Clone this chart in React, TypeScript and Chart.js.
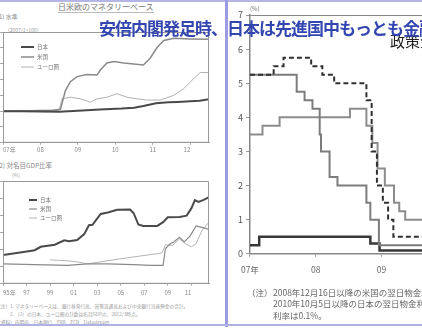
import React, { useEffect, useRef } from "react";
import { Chart, registerables } from "chart.js";
Chart.register(...registerables);
Chart.defaults.font.family = '"Noto Sans CJK JP", "DejaVu Sans", sans-serif';

// ---------- (1) Monetary base level, 2007/1 = 100; x = months since 2007/1 ----------
const mbTickMonths = [0, 12, 24, 36, 48, 60];
const mbTickLabels = ["07年", "08", "09", "10", "11", "12"];
const mbJapanMonths = [0, 6, 12, 18, 24, 31, 38, 42, 45, 49, 53, 56, 60, 63, 66];
const mbJapanValues = [100, 100, 99, 98, 101, 105, 108, 111, 116, 125, 128, 129, 131, 133, 138];
const mbUSMonths = [0, 8, 16, 18.4, 20, 21.6, 23.7, 26.9, 30.1, 31.2, 33.3, 35.5, 38.7, 45, 47.2, 49.3, 51.5, 54.7, 60, 66];
const mbUSValues = [100, 101, 103, 106, 165, 193, 209, 216, 214, 230, 252, 257, 252, 246, 268, 300, 323, 330, 328, 327];
const mbEuroMonths = [0, 10, 18, 18.9, 21.6, 24.8, 28, 30.1, 33.3, 36.5, 39.7, 42.9, 46.1, 50.4, 54.7, 57.9, 61.1, 63.2, 66];
const mbEuroValues = [100, 102, 103, 139, 144, 139, 128, 139, 144, 155, 144, 139, 135, 135, 150, 171, 203, 222, 222];

// ---------- (2) Ratio to nominal GDP (%) ----------
const gdpTickYears = [1995, 1997, 1999, 2001, 2003, 2005, 2007, 2009, 2011];
const gdpTickLabels = ["95年", "97", "99", "01", "03", "05", "07", "09", "11"];
const gdpJapanYears = [1995, 1996.6, 1997.7, 1998.2, 1999.4, 2000.2, 2000.6, 2001.3, 2001.9, 2002.3, 2002.6, 2003.3, 2003.9, 2004.7, 2005.8, 2006.1, 2006.5, 2006.9, 2008.1, 2008.6, 2009.0, 2010.0, 2010.6, 2011.0, 2011.3, 2011.6, 2012.0, 2012.5];
const gdpJapanValues = [8.4, 9.2, 9.8, 10.8, 11.4, 12.7, 12.4, 12.8, 14.5, 17.1, 17.2, 20.4, 20.8, 21.6, 21.7, 20.6, 17.3, 16.9, 16.9, 18.0, 19.4, 19.5, 19.9, 22.0, 24.4, 23.9, 24.4, 25.3];
const gdpUSYears = [1995, 1997.7, 2000.5, 2002.2, 2003.9, 2006.1, 2007.5, 2008.6, 2008.8, 2009.2, 2009.5, 2010.0, 2010.4, 2010.9, 2011.4, 2012.0, 2012.5];
const gdpUSValues = [5.8, 5.6, 5.4, 5.8, 5.8, 5.6, 5.4, 5.4, 10.3, 11.7, 12.2, 13.6, 12.2, 14.0, 16.9, 16.4, 15.9];
const gdpEuroYears = [1999.0, 2000.5, 2001.3, 2002.2, 2004.0, 2006.0, 2007.5, 2008.5, 2008.8, 2009.4, 2010.0, 2010.5, 2011.0, 2011.4, 2011.9, 2012.5];
const gdpEuroValues = [7.0, 6.7, 6.4, 5.8, 6.8, 7.8, 8.5, 9.0, 11.4, 11.2, 13.1, 11.7, 10.8, 11.7, 15.5, 18.0];

// ---------- Policy rates (%) ----------
const rateTickYears = [2007, 2008, 2009, 2010];
const rateTickLabels = ["07年", "08", "09", "10"];
const rateUSDates = [2007.0, 2007.71, 2007.83, 2007.95, 2008.06, 2008.08, 2008.21, 2008.33, 2008.77, 2008.83, 2008.96, 2010.0];
const rateUSValues = [5.25, 4.75, 4.5, 4.25, 3.5, 3.0, 2.25, 2.0, 1.5, 1.0, 0.25, 0.25];
const rateUKDates = [2007.0, 2007.36, 2007.51, 2007.93, 2008.1, 2008.28, 2008.77, 2008.85, 2008.93, 2009.02, 2009.1, 2009.18, 2010.0];
const rateUKValues = [5.25, 5.5, 5.75, 5.5, 5.25, 5.0, 4.5, 3.0, 2.0, 1.5, 1.0, 0.5, 0.5];
const rateECBDates = [2007.0, 2007.19, 2007.45, 2008.52, 2008.77, 2008.86, 2008.94, 2009.05, 2009.19, 2009.27, 2009.36, 2010.0];
const rateECBValues = [3.5, 3.75, 4.0, 4.25, 3.75, 3.25, 2.5, 2.0, 1.5, 1.25, 1.0, 1.0];
const rateJPDates = [2007.0, 2007.14, 2008.83, 2008.97, 2010.0];
const rateJPValues = [0.25, 0.5, 0.3, 0.1, 0.1];

const zip = (xs: number[], ys: number[]) => xs.map((x, i) => ({ x, y: ys[i] }));

const framePlugin = (id: string, color: string, topOnly = false) => ({
  id,
  afterDraw(chart: any) {
    const { ctx, chartArea: a } = chart;
    ctx.save();
    ctx.strokeStyle = color;
    ctx.lineWidth = 1;
    ctx.beginPath();
    if (topOnly) {
      ctx.moveTo(a.left, a.top + 0.5);
      ctx.lineTo(a.right, a.top + 0.5);
    } else {
      ctx.rect(a.left + 0.5, a.top + 0.5, a.width - 1, a.height - 1);
    }
    ctx.stroke();
    ctx.restore();
  },
});

const legendPlugin = (id: string, x0: number, x1: number, ys: number[], tx: number, size: number) => ({
  id,
  afterDatasetsDraw(chart: any) {
    const { ctx, chartArea: a } = chart;
    chart.data.datasets.forEach((ds: any, i: number) => {
      const y = a.top + ys[i];
      ctx.save();
      ctx.strokeStyle = ds.borderColor;
      ctx.lineWidth = ds.borderWidth;
      ctx.beginPath();
      ctx.moveTo(a.left + x0, y);
      ctx.lineTo(a.left + x1, y);
      ctx.stroke();
      ctx.fillStyle = "#777";
      ctx.font = `${size}px "Noto Sans CJK JP", sans-serif`;
      ctx.textBaseline = "middle";
      ctx.fillText(ds.label, a.left + tx, y);
      ctx.restore();
    });
  },
});

const baseOpts = {
  animation: false,
  responsive: false,
  devicePixelRatio: 1,
  events: [],
};

function mbConfig(): any {
  return {
    type: "line",
    data: {
      datasets: [
        { label: "日本", data: zip(mbJapanMonths, mbJapanValues), borderColor: "#4a4a4a", borderWidth: 2, pointRadius: 0 },
        { label: "米国", data: zip(mbUSMonths, mbUSValues), borderColor: "#8a8a8a", borderWidth: 1.5, pointRadius: 0 },
        { label: "ユーロ圏", data: zip(mbEuroMonths, mbEuroValues), borderColor: "#b0b0b0", borderWidth: 1, pointRadius: 0 },
      ],
    },
    options: {
      ...baseOpts,
      layout: { padding: { left: 0, right: 7, top: 6, bottom: 6 } },
      plugins: { legend: { display: false }, tooltip: { enabled: false } },
      scales: {
        x: {
          type: "linear", min: 0, max: 66,
          afterBuildTicks: (s: any) => { s.ticks = mbTickMonths.map((v) => ({ value: v })); },
          ticks: { autoSkip: false, maxRotation: 0, align: "inner", padding: 1, font: { size: 6 }, color: "#888",
            callback: (v: number) => mbTickLabels[mbTickMonths.indexOf(v)] ?? "" },
          grid: { drawOnChartArea: false, tickLength: 2, color: "#aaa" },
          border: { color: "#999" },
        },
        y: {
          min: 0, max: 350,
          ticks: { stepSize: 50, display: false },
          grid: { drawOnChartArea: false, tickLength: 3, color: "#aaa" },
          border: { color: "#999" },
        },
      },
    },
    plugins: [framePlugin("frameA", "#999"), legendPlugin("legA", 18, 31, [15, 25, 35], 34, 5.5)],
  };
}

function gdpConfig(): any {
  return {
    type: "line",
    data: {
      datasets: [
        { label: "日本", data: zip(gdpJapanYears, gdpJapanValues), borderColor: "#4a4a4a", borderWidth: 2, pointRadius: 0 },
        { label: "米国", data: zip(gdpUSYears, gdpUSValues), borderColor: "#8a8a8a", borderWidth: 1.2, pointRadius: 0 },
        { label: "ユーロ圏", data: zip(gdpEuroYears, gdpEuroValues), borderColor: "#b4b4b4", borderWidth: 1, pointRadius: 0 },
      ],
    },
    options: {
      ...baseOpts,
      layout: { padding: { left: 0, right: 7, top: 6, bottom: 4 } },
      plugins: { legend: { display: false }, tooltip: { enabled: false } },
      scales: {
        x: {
          type: "linear", min: 1995, max: 2012.5,
          afterBuildTicks: (s: any) => { s.ticks = gdpTickYears.map((v) => ({ value: v })); },
          ticks: { autoSkip: false, maxRotation: 0, align: "inner", padding: 3, font: { size: 6 }, color: "#888",
            callback: (v: number) => gdpTickLabels[gdpTickYears.indexOf(v)] ?? "" },
          grid: { drawOnChartArea: false, tickLength: 2, color: "#aaa" },
          border: { color: "#999" },
        },
        y: {
          min: 0, max: 30,
          ticks: { stepSize: 5, display: false },
          grid: { drawOnChartArea: false, tickLength: 3, color: "#aaa" },
          border: { color: "#999" },
        },
      },
    },
    plugins: [framePlugin("frameB", "#999"), legendPlugin("legB", 26, 34, [19, 28, 37], 37, 5.5)],
  };
}

function rateConfig(): any {
  return {
    type: "line",
    data: {
      datasets: [
        { label: "英国", data: zip(rateUKDates, rateUKValues), borderColor: "#303030", borderWidth: 2, borderDash: [5, 3], stepped: "before", pointRadius: 0 },
        { label: "米国", data: zip(rateUSDates, rateUSValues), borderColor: "#7c7c7c", borderWidth: 2, stepped: "before", pointRadius: 0 },
        { label: "ユーロ圏", data: zip(rateECBDates, rateECBValues), borderColor: "#8c8c8c", borderWidth: 2, stepped: "before", pointRadius: 0 },
        { label: "日本", data: zip(rateJPDates, rateJPValues), borderColor: "#383838", borderWidth: 2.5, stepped: "before", pointRadius: 0 },
      ],
    },
    options: {
      ...baseOpts,
      layout: { padding: { left: 7, right: 5, top: 15, bottom: 5 } },
      plugins: { legend: { display: false }, tooltip: { enabled: false } },
      scales: {
        x: {
          type: "linear", min: 2007, max: 2010,
          afterBuildTicks: (s: any) => { s.ticks = rateTickYears.map((v) => ({ value: v })); },
          ticks: { autoSkip: false, maxRotation: 0, padding: 8, font: { size: 8.5 }, color: "#666",
            callback: (v: number) => rateTickLabels[rateTickYears.indexOf(v)] ?? "" },
          grid: { drawOnChartArea: false, tickLength: 3, color: "#999" },
          border: { color: "#888", width: 1.5 },
        },
        y: {
          min: 0, max: 7,
          ticks: { stepSize: 1, padding: 3, font: { size: 9 }, color: "#555" },
          grid: { drawOnChartArea: false, tickLength: 4, color: "#999" },
          border: { color: "#888", width: 1.5 },
        },
      },
    },
    plugins: [framePlugin("frameC", "#888", true)],
  };
}

function ChartCanvas({ left, top, width, height, config }: any) {
  const ref = useRef<HTMLCanvasElement | null>(null);
  useEffect(() => {
    const chart = new Chart(ref.current as HTMLCanvasElement, config());
    return () => chart.destroy();
  }, []);
  return (
    <canvas
      ref={ref}
      width={width}
      height={height}
      style={{ position: "absolute", left, top, width, height }}
    />
  );
}

function T({ x, y, size, color = "#777", weight = 400, children, style = {} }: any) {
  return (
    <div
      style={{
        position: "absolute", left: x, top: y, fontSize: size, lineHeight: 1, color,
        fontWeight: weight, whiteSpace: "nowrap", ...style,
      }}
    >
      {children}
    </div>
  );
}

export default function App() {
  return (
    <div
      style={{
        position: "fixed", left: 0, top: 0, width: 422, height: 335, overflow: "hidden",
        background: "#ffffff", fontFamily: '"Noto Sans CJK JP", "DejaVu Sans", sans-serif',
      }}
    >
      {/* left panel */}
      <T x={58} y={3} size={8} color="#777" style={{ borderBottom: "1px solid #bbb", paddingBottom: 1 }}>日米欧のマネタリーベース</T>
      <T x={-3} y={14} size={6} color="#888">(1) 水準</T>
      <T x={8} y={27} size={5} color="#999">(2007/1=100)</T>
      <ChartCanvas left={0} top={26} width={216} height={134} config={mbConfig} />
      <T x={-3} y={162} size={6.5} color="#888">(2) 対名目GDP比率</T>
      <T x={12} y={172} size={5} color="#999">(%)</T>
      <ChartCanvas left={0} top={175} width={216} height={128} config={gdpConfig} />
      <T x={-4} y={304} size={4.7} color="#999">（注）1. マネタリーベースは、銀行券発行高、貨幣流通高および中央銀行当座預金の合計。</T>
      <T x={-4} y={312} size={4.7} color="#999">　　　2. （2）の日本、ユーロ圏の計数は名目GDPの、2012/3時点。</T>
      <T x={-4} y={320} size={4.7} color="#999">（資料）内閣府、日本銀行、FRB、ECB、Datastream</T>

      {/* right panel */}
      <ChartCanvas left={228} top={0} width={232} height={288} config={rateConfig} />
      <T x={250} y={6} size={6} color="#777">(%)</T>
      <T x={390} y={33} size={15} color="#222">政策金利</T>
      <T x={247} y={287.5} size={8.5} color="#666">（注）</T>
      <T x={273} y={287.5} size={8.5} color="#666">2008年12月16日以降の米国の翌日物金利は0～0.25%。</T>
      <T x={273} y={299} size={8.5} color="#666">2010年10月5日以降の日本の翌日物金利は0～0.1%程度。グラフ上の金</T>
      <T x={273} y={310.5} size={8.5} color="#666">利率は0.1%。</T>

      {/* frame lines */}
      <div style={{ position: "absolute", left: 0, top: 0, width: 422, height: 2, background: "#b6b6e6" }} />
      <div style={{ position: "absolute", left: 225, top: 0, width: 3, height: 327, background: "#9c9ce2" }} />
      <div style={{ position: "absolute", left: 0, top: 324, width: 422, height: 2, background: "#b0b0e4" }} />

      {/* overlay headline */}
      <T x={99} y={19} size={17} color="#3346b0" weight={700} style={{ letterSpacing: -1, zIndex: 10 }}>
        安倍内閣発足時、日本は先進国中もっとも金融緩和をしていなかった
      </T>
    </div>
  );
}
